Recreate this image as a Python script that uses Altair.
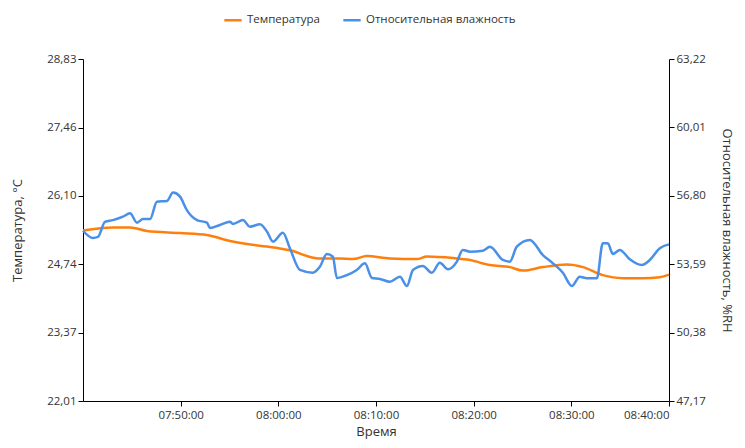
import altair as alt
import pandas as pd

# Temperature series (°C)
temp_times = ["07:40:00", "07:43:04", "07:44:49", "07:46:33", "07:49:56", "07:52:41", "07:55:03",
              "07:56:47", "07:58:50", "08:00:28", "08:01:30", "08:02:56", "08:04:15", "08:06:18",
              "08:07:38", "08:09:04", "08:11:25", "08:14:11", "08:15:13", "08:17:52", "08:19:37",
              "08:21:40", "08:23:42", "08:25:02", "08:27:05", "08:29:32", "08:31:11", "08:33:13",
              "08:35:16", "08:37:19", "08:39:03", "08:40:00"]
temp_values = [25.41, 25.47, 25.47, 25.40, 25.36, 25.32, 25.20,
               25.14, 25.09, 25.04, 25.00, 24.90, 24.85, 24.85,
               24.84, 24.90, 24.85, 24.84, 24.89, 24.86, 24.82,
               24.72, 24.68, 24.61, 24.68, 24.73, 24.68, 24.52,
               24.46, 24.46, 24.48, 24.53]

# Relative humidity series (%RH)
hum_times = ["07:40:00", "07:41:01", "07:41:32", "07:42:15", "07:43:04", "07:44:05", "07:44:49",
             "07:45:32", "07:46:08", "07:46:52", "07:47:34", "07:48:36", "07:49:13", "07:49:56",
             "07:50:38", "07:51:40", "07:52:41", "07:53:00", "07:54:01", "07:55:03", "07:55:21",
             "07:56:23", "07:57:05", "07:58:07", "07:58:50", "07:59:27", "08:00:28", "08:01:11",
             "08:02:13", "08:03:32", "08:04:15", "08:04:58", "08:05:35", "08:06:00", "08:07:01",
             "08:08:02", "08:08:52", "08:09:35", "08:10:24", "08:11:25", "08:12:27", "08:13:10",
             "08:13:47", "08:14:48", "08:15:43", "08:16:32", "08:17:22", "08:18:17", "08:18:53",
             "08:19:37", "08:20:56", "08:21:40", "08:22:59", "08:23:42", "08:24:25", "08:25:45",
             "08:27:05", "08:28:07", "08:29:08", "08:30:03", "08:30:52", "08:31:35", "08:32:37",
             "08:33:13", "08:33:44", "08:34:15", "08:34:58", "08:35:59", "08:37:13", "08:38:02",
             "08:39:04", "08:40:00"]
hum_values = [55.16, 54.82, 54.87, 55.58, 55.66, 55.82, 55.98,
              55.54, 55.71, 55.71, 56.52, 56.56, 56.95, 56.76,
              56.13, 55.66, 55.54, 55.29, 55.43, 55.58, 55.48,
              55.66, 55.35, 55.46, 55.12, 54.65, 55.07, 54.34,
              53.32, 53.19, 53.47, 54.07, 53.94, 52.94, 53.08,
              53.32, 53.63, 52.94, 52.90, 52.77, 53.00, 52.57,
              53.32, 53.51, 53.19, 53.66, 53.35, 53.71, 54.26,
              54.18, 54.22, 54.41, 53.79, 53.71, 54.41, 54.73,
              54.02, 53.63, 53.19, 52.57, 53.00, 52.93, 52.93,
              54.57, 54.57, 54.07, 54.26, 53.82, 53.55, 53.79,
              54.34, 54.52]

temp_ticks = [22.01, 23.37, 24.74, 26.10, 27.46, 28.83]
hum_ticks = [47.17, 50.38, 53.59, 56.80, 60.01, 63.22]
x_ticks = ["07:50:00", "08:00:00", "08:10:00", "08:20:00", "08:30:00", "08:40:00"]

series_names = ["Температура", "Относительная влажность"]
series_colors = ["#FF7F0E", "#4A8FE8"]

day = "2024-01-01T"
df_t = pd.DataFrame({"t": [day + s for s in temp_times], "v": temp_values, "s": series_names[0]})
df_h = pd.DataFrame({"t": [day + s for s in hum_times], "v": hum_values, "s": series_names[1]})

font = "Open Sans"
LBL = 11.5
TTL = 13
x_enc = alt.X("t:T",
              scale=alt.Scale(domain=[day + "07:40:00", day + "08:40:00"]),
              axis=alt.Axis(title="Время", format="%H:%M:%S",
                            values=[day + s for s in x_ticks],
                            grid=False, domainColor="#000", tickColor="#000",
                            labelColor="#333", titleColor="#333", titleFontWeight="normal",
                            labelFontSize=LBL, titleFontSize=TTL, titlePadding=5, labelPadding=3,
                            labelFont=font, titleFont=font))

color_enc = alt.Color("s:N",
                      scale=alt.Scale(domain=series_names, range=series_colors),
                      legend=alt.Legend(title=None, orient="none", direction="horizontal",
                                        legendX=140, legendY=-49, symbolType="stroke",
                                        symbolStrokeWidth=2.5, symbolSize=300,
                                        labelFont=font, labelFontSize=LBL, labelColor="#333",
                                        columnPadding=18))

lab_expr = "replace(format(datum.value, '.2f'), '.', ',')"

temp_line = alt.Chart(df_t).mark_line(strokeWidth=2.5, interpolate="monotone").encode(
    x=x_enc,
    y=alt.Y("v:Q", scale=alt.Scale(domain=[22.01, 28.83], nice=False, zero=False),
            axis=alt.Axis(title="Температура, °C", values=temp_ticks, labelExpr=lab_expr,
                          grid=False, domainColor="#000", tickColor="#000",
                          labelColor="#333", titleColor="#333", titleFontWeight="normal",
                          labelFontSize=LBL, titleFontSize=TTL, titlePadding=22,
                          labelFont=font, titleFont=font)),
    color=color_enc,
)

hum_line = alt.Chart(df_h).mark_line(strokeWidth=2.5, interpolate="monotone").encode(
    x=x_enc,
    y=alt.Y("v:Q", scale=alt.Scale(domain=[47.17, 63.22], nice=False, zero=False),
            axis=alt.Axis(title="Относительная влажность, %RH", orient="right",
                          values=hum_ticks, labelExpr=lab_expr,
                          grid=False, domainColor="#000", tickColor="#000",
                          labelColor="#333", titleColor="#333", titleFontWeight="normal",
                          labelFontSize=LBL, titleFontSize=TTL, titlePadding=14,
                          labelFont=font, titleFont=font)),
    color=color_enc,
)

chart = alt.layer(temp_line, hum_line).resolve_scale(y="independent").properties(
    width=586, height=342,
    padding={"left": 75, "top": 51, "right": 68, "bottom": 39},
    autosize=alt.AutoSizeParams(type="none"),
).configure_view(stroke=None)

chart.save("out.html", embed_options={"renderer": "svg", "actions": False})
